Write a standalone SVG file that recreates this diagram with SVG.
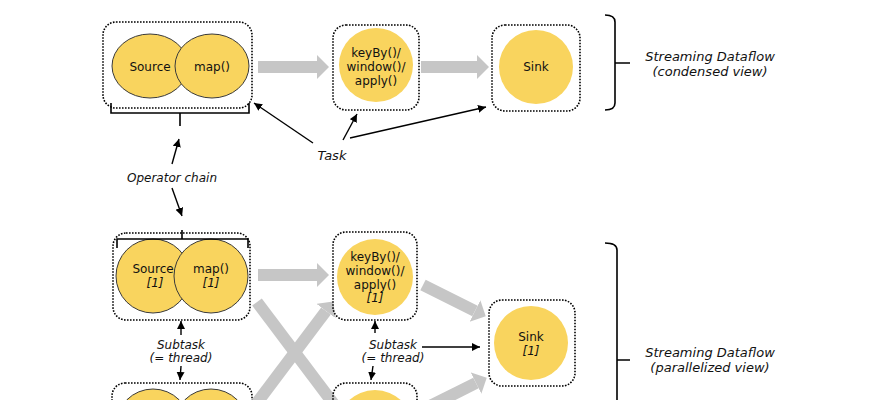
<svg xmlns="http://www.w3.org/2000/svg" width="889" height="400" viewBox="0 0 889 400">
<defs>
<style>
.box{fill:none;stroke:#000;stroke-width:1.6;stroke-dasharray:1.6 1.4}
.op{fill:#f9d45e;stroke:#3a3a3a;stroke-width:1}
.opn{fill:#f9d45e}
.t{font-family:"DejaVu Sans",Verdana,sans-serif;font-size:12px;fill:#111;text-anchor:middle}
.i{font-style:italic}
.big{font-family:"DejaVu Sans",Verdana,sans-serif;font-size:13px;font-style:italic;fill:#111;text-anchor:middle}
.flow{stroke:#c6c6c6;stroke-width:12;fill:none;marker-end:url(#gh)}
.ptr{stroke:#000;stroke-width:1.4;fill:none;marker-end:url(#bh)}
.br{stroke:#000;stroke-width:1.6;fill:none}
</style>
<marker id="gh" markerUnits="userSpaceOnUse" markerWidth="14" markerHeight="26" refX="0" refY="12" orient="auto">
<path d="M0,0 L12,12 L0,24 Z" fill="#c6c6c6"/>
</marker>
<marker id="bh" markerUnits="userSpaceOnUse" markerWidth="10" markerHeight="10" refX="8" refY="4" orient="auto">
<path d="M0,0 L8,4 L0,8 Z" fill="#000"/>
</marker>
</defs>

<g id="connectors">
<line class="flow" x1="258" y1="67" x2="317" y2="67"/>
<line class="flow" x1="421" y1="67" x2="477" y2="67"/>
<line class="flow" x1="258" y1="275" x2="317" y2="275"/>
<line class="flow" x1="423" y1="285" x2="475" y2="311"/>
<line class="flow" x1="420" y1="411" x2="476" y2="383"/>
<line style="stroke:#c6c6c6;stroke-width:12" x1="257" y1="302" x2="342" y2="415"/>
<line class="flow" x1="247" y1="416" x2="326" y2="311"/>
<line class="ptr" x1="313" y1="143" x2="254" y2="103"/>
<line class="ptr" x1="343" y1="140" x2="357" y2="114"/>
<line class="ptr" x1="350" y1="138" x2="486" y2="107"/>
<line class="ptr" x1="172" y1="164" x2="179" y2="139"/>
<line class="ptr" x1="172" y1="188" x2="182" y2="216"/>
<line class="ptr" x1="181" y1="335" x2="181" y2="321"/>
<line class="ptr" x1="181" y1="366" x2="180" y2="380"/>
<line class="ptr" x1="375" y1="333" x2="375" y2="321"/>
<line class="ptr" x1="422" y1="347" x2="480" y2="347"/>
<line class="ptr" x1="373" y1="366" x2="371" y2="380"/>
</g>

<g id="chain-top">
<rect class="box" x="103" y="22" width="149" height="86" rx="13"/>
<ellipse class="op" cx="150" cy="66" rx="38" ry="32"/>
<ellipse class="op" cx="212" cy="66" rx="37" ry="32"/>
<text class="t" x="150" y="71">Source</text>
<text class="t" x="212" y="71">map()</text>
<path class="br" d="M111,103 V113 H249 V103 M180,113 V126"/>
</g>

<g id="keyby-top">
<rect class="box" x="333" y="25" width="86" height="85" rx="13"/>
<circle class="opn" cx="376" cy="65" r="37"/>
<text class="t" x="376" y="57">keyBy()/</text>
<text class="t" x="376" y="71">window()/</text>
<text class="t" x="376" y="85">apply()</text>
</g>

<g id="sink-top">
<rect class="box" x="492" y="25" width="88" height="86" rx="13"/>
<circle class="opn" cx="536" cy="67" r="37"/>
<text class="t" x="536" y="71">Sink</text>
</g>

<g id="label-condensed">
<path class="br" d="M605,15 Q615,15 615,22 V103 Q615,110 605,110 M615,63 H630"/>
<text class="big" x="710" y="61">Streaming Dataflow</text>
<text class="big" x="710" y="76">(condensed view)</text>
</g>

<g id="task-label">
<text class="big" x="332" y="160">Task</text>
</g>

<g id="operator-chain-label">
<text class="t i" x="172" y="182">Operator chain</text>
</g>

<g id="chain-1">
<rect class="box" x="113" y="233" width="137" height="87" rx="13"/>
<circle class="op" cx="153" cy="276" r="37"/>
<circle class="op" cx="211" cy="276" r="37"/>
<text class="t" x="153" y="273">Source</text>
<text class="t i" x="155" y="287">[1]</text>
<text class="t" x="211" y="273">map()</text>
<text class="t i" x="211" y="287">[1]</text>
<path class="br" d="M117,248 V239 H248 V248 M182,239 V230"/>
</g>

<g id="keyby-1">
<rect class="box" x="333" y="232" width="84" height="88" rx="13"/>
<circle class="opn" cx="375" cy="277" r="38"/>
<text class="t" x="375" y="261">keyBy()/</text>
<text class="t" x="375" y="275">window()/</text>
<text class="t" x="375" y="289">apply()</text>
<text class="t i" x="375" y="302">[1]</text>
</g>

<g id="sink-1">
<rect class="box" x="489" y="300" width="86" height="86" rx="13"/>
<circle class="opn" cx="531" cy="343" r="37"/>
<text class="t" x="531" y="341">Sink</text>
<text class="t i" x="531" y="355">[1]</text>
</g>

<g id="chain-2">
<rect class="box" x="112" y="383" width="140" height="88" rx="13"/>
<circle class="op" cx="153" cy="426" r="37"/>
<circle class="op" cx="211" cy="426" r="37"/>
</g>

<g id="keyby-2">
<rect class="box" x="333" y="383" width="84" height="88" rx="13"/>
<circle class="opn" cx="375" cy="428" r="38"/>
</g>

<g id="subtask-labels">
<text class="t i" x="181" y="349">Subtask</text>
<text class="t i" x="181" y="362">(= thread)</text>
<text class="t i" x="393" y="349">Subtask</text>
<text class="t i" x="393" y="362">(= thread)</text>
</g>

<g id="label-parallel">
<path class="br" d="M605,243 Q617,243 617,250 V410 M617,360 H630"/>
<text class="big" x="710" y="357">Streaming Dataflow</text>
<text class="big" x="710" y="372">(parallelized view)</text>
</g>
</svg>
